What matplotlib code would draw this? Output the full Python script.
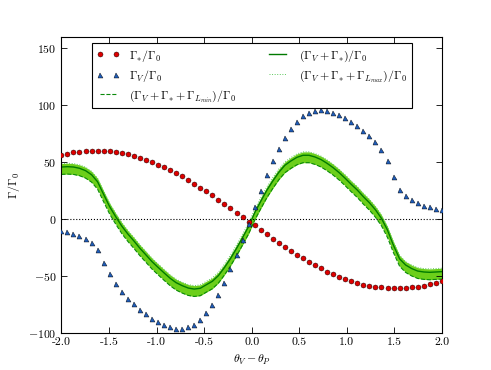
import numpy as np
import matplotlib
matplotlib.use("Agg")
import matplotlib.pyplot as plt

plt.rcParams['mathtext.fontset'] = 'cm'
plt.rcParams['font.family'] = 'serif'
plt.rcParams['font.serif'] = ['cmr10', 'DejaVu Serif']
plt.rcParams['axes.formatter.use_mathtext'] = True
plt.rcParams['font.size'] = 8.5

# theta_V - theta_P grid (64 samples on [-2, 2])
theta = np.linspace(-2.0, 2.0, 64)

# Gamma_* / Gamma_0 (red circles)
gamma_star = [56.2, 57.4, 58.6, 59.2, 59.8, 60.0, 60.0, 60.0, 59.5, 58.9,
              58.0, 56.8, 55.6, 53.9, 52.1, 50.1, 48.0, 45.7, 43.1, 40.4,
              37.8, 34.5, 31.3, 27.8, 24.5, 21.0, 17.2, 13.4, 9.6, 5.8,
              1.9, -2.2, -5.4, -9.5, -13.4, -17.2, -20.7, -24.2, -28.0, -31.3,
              -34.5, -37.4, -40.4, -43.3, -46.0, -48.3, -50.4, -52.7, -54.5, -56.0,
              -57.4, -58.6, -59.5, -60.0, -60.4, -60.6, -60.6, -60.4, -60.0, -59.5,
              -58.3, -57.1, -55.7, -54.2]

# Gamma_V / Gamma_0 (blue triangles)
gamma_v = [-10.4, -11.3, -12.8, -14.5, -17.2, -21.0, -27.2, -38.3, -48.6, -56.8,
           -64.1, -69.8, -74.7, -79.5, -83.5, -87.4, -90.3, -92.9, -95.0, -96.2,
           -96.2, -95.0, -92.7, -88.5, -82.1, -75.6, -66.8, -55.9, -44.2, -31.5,
           -18.1, -4.2, 11.0, 25.1, 38.6, 50.7, 61.8, 71.5, 79.1, 85.6,
           90.6, 93.5, 95.0, 95.6, 95.0, 93.5, 91.2, 88.5, 85.0, 81.5,
           77.1, 73.0, 67.7, 60.6, 50.7, 37.4, 25.7, 20.1, 16.6, 13.9,
           11.9, 10.4, 9.3, 8.1]

# Gamma_L / Gamma_0 bounds
gamma_lmin = -6.5
gamma_lmax = 3.0

total = np.array(gamma_v) + np.array(gamma_star)
total_min = total + gamma_lmin
total_max = total + gamma_lmax

fig = plt.figure(figsize=(4.91, 3.70), dpi=100)
ax = fig.add_subplot(111)
fig.subplots_adjust(left=0.125, right=0.9, bottom=0.1, top=0.9)

ax.fill_between(theta, total_min, total_max, color='#6ccf1a', lw=0, zorder=1)
ax.plot(theta, total, '-', color='#007a00', lw=1.0, zorder=2,
        label=r'$(\Gamma_V+\Gamma_{*})/\Gamma_0$')
ax.plot(theta, total_min, '--', color='#0a8a0a', lw=0.8, zorder=2,
        label=r'$(\Gamma_V+\Gamma_{*}+\Gamma_{L_{min}})/\Gamma_0$')
ax.plot(theta, total_max, ':', color='#5cc85c', lw=0.7, zorder=2,
        label=r'$(\Gamma_V+\Gamma_{*}+\Gamma_{L_{max}})/\Gamma_0$')
ax.axhline(0, color='k', ls=':', lw=0.8, zorder=1.5)

ax.plot(theta, gamma_star, 'o', color='#dd0000', mec='k', mew=0.3, ms=3.6,
        zorder=3, label=r'$\Gamma_{*}/\Gamma_0$')
ax.plot(theta, gamma_v, '^', color='#1f5cb8', mec='k', mew=0.3, ms=3.6,
        zorder=3, label=r'$\Gamma_V/\Gamma_0$')

ax.set_xlim(-2, 2)
ax.set_ylim(-100, 160)
ax.set_xticks(np.arange(-2.0, 2.01, 0.5))
ax.set_yticks([-100, -50, 0, 50, 100, 150])
ax.xaxis.set_major_formatter(matplotlib.ticker.FormatStrFormatter('%.1f'))
ax.tick_params(direction='in', top=True, right=True, length=4, width=0.6)
for s in ax.spines.values():
    s.set_linewidth(0.8)

ax.set_xlabel(r'$\theta_V-\theta_P$')
ax.set_ylabel(r'$\Gamma/\Gamma_0$')

h, l = ax.get_legend_handles_labels()
order = [3, 4, 1, 0, 2]
leg = ax.legend([h[i] for i in order], [l[i] for i in order], loc='upper center',
                ncol=2, numpoints=2, fancybox=False, framealpha=1,
                edgecolor='k', columnspacing=2.5, labelspacing=0.35)
leg.get_frame().set_linewidth(0.8)

plt.savefig('out.png', dpi=100)
